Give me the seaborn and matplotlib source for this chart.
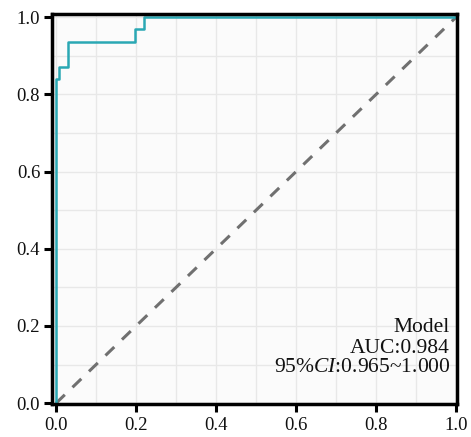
import matplotlib
matplotlib.use("Agg")
import matplotlib.pyplot as plt
import seaborn as sns
import numpy as np
import pandas as pd
from matplotlib.ticker import MultipleLocator

# ROC data (step curve)
fpr = [0.0, 0.0, 0.008, 0.008, 0.03, 0.03, 0.198, 0.198, 0.22, 0.22, 1.0]
tpr = [0.0, 0.839, 0.839, 0.871, 0.871, 0.935, 0.935, 0.968, 0.968, 1.0, 1.0]
diag = [0.0, 1.0]
tick_vals = [0.0, 0.2, 0.4, 0.6, 0.8, 1.0]
tick_labels = ["0.0", "0.2", "0.4", "0.6", "0.8", "1.0"]
legend_lines = ["Model", "AUC:0.984", r"95%$\mathit{CI}$:0.965~1.000"]

sns.set_theme(style="whitegrid")
plt.rcParams["font.family"] = ["Liberation Serif", "DejaVu Serif"]
plt.rcParams["mathtext.fontset"] = "custom"
plt.rcParams["mathtext.it"] = "Liberation Serif:italic"
plt.rcParams["mathtext.rm"] = "Liberation Serif"

fig = plt.figure(figsize=(4.71, 4.37), dpi=100)
ax = fig.add_axes([52/471, 1-404/437, (457-52)/471, (404-14)/437])
ax.set_facecolor("#fbfbfb")

df = pd.DataFrame({"fpr": fpr, "tpr": tpr})
ax.plot(df["fpr"], df["tpr"], color="#2aa8b4", lw=1.8, zorder=3)
sns.lineplot(x=diag, y=diag, ax=ax, color="#707070", lw=2.2, linestyle=(0, (4, 3.5)), zorder=2)

ax.set_xlim(-0.01, 1.002)
ax.set_ylim(-0.002, 1.008)
ax.set_xticks(tick_vals)
ax.set_xticklabels(tick_labels)
ax.set_yticks(tick_vals)
ax.set_yticklabels(tick_labels)
ax.xaxis.set_minor_locator(MultipleLocator(0.1))
ax.yaxis.set_minor_locator(MultipleLocator(0.1))
ax.grid(True, which="both", color="#e8e8e8", lw=1.0)
ax.tick_params(which="major", direction="out", length=6, width=2.2, color="black",
               labelsize=13.5, bottom=True, left=True, labelcolor="#111111")
ax.tick_params(axis="x", which="major", pad=3)
ax.tick_params(axis="y", which="major", pad=2.5)
ax.tick_params(which="minor", length=0)
for s in ax.spines.values():
    s.set_color("black")
    s.set_linewidth(2.5)
    s.set_zorder(5)

ys = [0.185, 0.131, 0.082]
for t, y in zip(legend_lines, ys):
    ax.text(0.983, y, t, transform=ax.transAxes, ha="right", va="baseline",
            fontsize=15.5, color="#111111")

fig.savefig("out.png", dpi=100, facecolor="white")
